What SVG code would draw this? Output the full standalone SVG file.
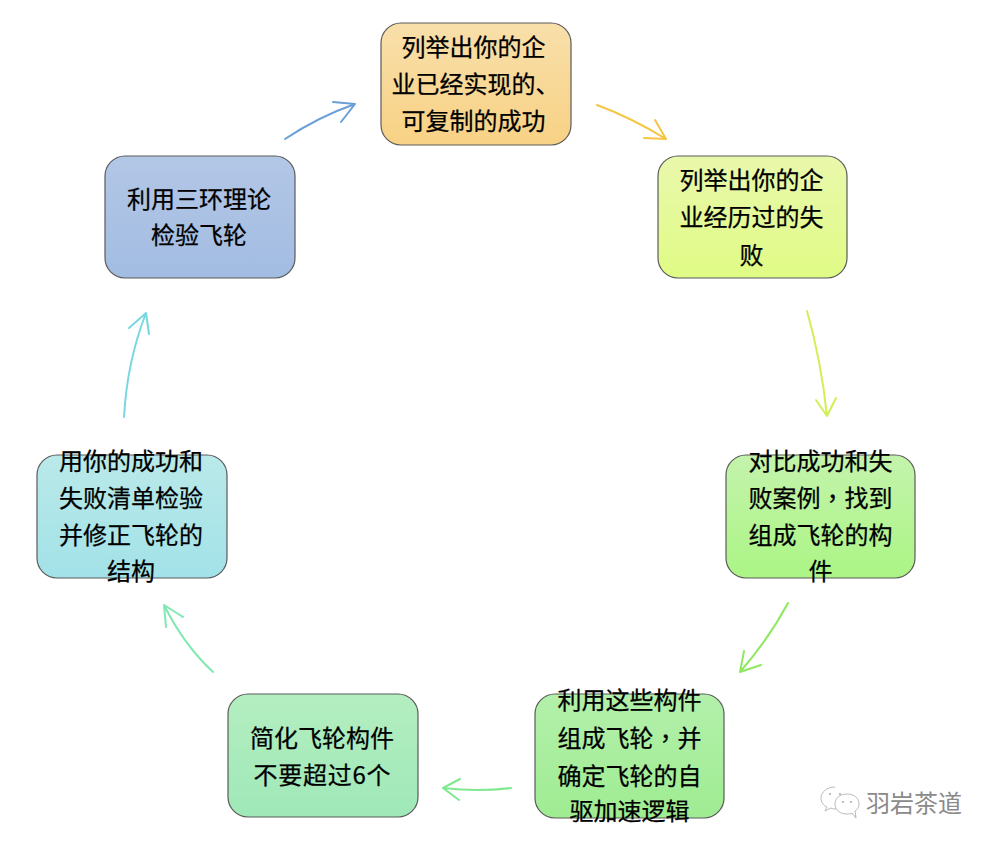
<svg xmlns="http://www.w3.org/2000/svg" width="994" height="848" viewBox="0 0 994 848">
<style>
.box{stroke:#5a5a5a;stroke-width:1.2}
text{font-family:"Noto Sans CJK SC","Noto Sans",sans-serif;font-size:24px;fill:#000;stroke:#000;stroke-width:.25;text-anchor:middle}
.tc{font-family:"Noto Sans CJK TC","Noto Sans",sans-serif}
.c{fill:none;stroke-width:2;stroke-linecap:round;stroke-linejoin:round}
.wm{fill:none;stroke:#a8a8a8;stroke-width:.8}
.wmt{font-size:24px;fill:#8a8a8a;stroke:none}
</style>
<defs>
<linearGradient id="g1" x1="0" y1="0" x2="0" y2="1"><stop offset="0" stop-color="#f8dfaa"/><stop offset="1" stop-color="#f8d285"/></linearGradient>
<linearGradient id="g2" x1="0" y1="0" x2="0" y2="1"><stop offset="0" stop-color="#e9f8ac"/><stop offset="1" stop-color="#e0fb85"/></linearGradient>
<linearGradient id="g3" x1="0" y1="0" x2="0" y2="1"><stop offset="0" stop-color="#c4f3ac"/><stop offset="1" stop-color="#abf585"/></linearGradient>
<linearGradient id="g4" x1="0" y1="0" x2="0" y2="1"><stop offset="0" stop-color="#b3f0ab"/><stop offset="1" stop-color="#9fec92"/></linearGradient>
<linearGradient id="g5" x1="0" y1="0" x2="0" y2="1"><stop offset="0" stop-color="#b4eec0"/><stop offset="1" stop-color="#9fe8b8"/></linearGradient>
<linearGradient id="g6" x1="0" y1="0" x2="0" y2="1"><stop offset="0" stop-color="#bae9e9"/><stop offset="1" stop-color="#a2e2e8"/></linearGradient>
<linearGradient id="g7" x1="0" y1="0" x2="0" y2="1"><stop offset="0" stop-color="#b3c7e6"/><stop offset="1" stop-color="#a2bce2"/></linearGradient>
</defs>
<rect width="994" height="848" fill="#fff"/>
<g id="connectors">
<path class="c" stroke="#6a9fd8" d="M285 139Q318 117 355 104M333 102L355 104L341 122"/>
<path class="c" stroke="#f6c544" d="M597 105Q632 118 666 139M655 120L666 139L644 138"/>
<path class="c" stroke="#d0f055" d="M807 311Q821 360 827 416M816 400L827 416L836 398"/>
<path class="c" stroke="#8fe860" d="M788 603Q768 640 740 672M744 651L740 672L761 665"/>
<path class="c" stroke="#80e890" d="M511 788Q478 792 443 788M460 779L443 788L459 800"/>
<path class="c" stroke="#80e8b0" d="M213 672Q184 645 164 605M166 627L164 605L183 617"/>
<path class="c" stroke="#78d8e0" d="M124 417Q127 362 146 313M129 328L146 313L149 334"/>
</g>
<g id="node1"><rect class="box" x="381" y="23" width="190" height="122" rx="20" fill="url(#g1)"/>
<text x="473.5" y="56">列举出你的企</text><text x="475.5" y="93">业已经实现的、</text><text x="473.5" y="130">可复制的成功</text></g>
<g id="node2"><rect class="box" x="658" y="156" width="189" height="122" rx="20" fill="url(#g2)"/>
<text x="751.5" y="189">列举出你的企</text><text x="751.5" y="226">业经历过的失</text><text x="751.5" y="264">败</text></g>
<g id="node3"><rect class="box" x="726" y="455" width="189" height="123" rx="20" fill="url(#g3)"/>
<text x="820.5" y="470">对比成功和失</text><text x="820.5" y="507">败案例<tspan class="tc">，</tspan>找到</text><text x="820.5" y="544">组成飞轮的构</text><text x="820.5" y="580">件</text></g>
<g id="node4"><rect class="box" x="535" y="694" width="189" height="124" rx="20" fill="url(#g4)"/>
<text x="629.5" y="709">利用这些构件</text><text x="629.5" y="747">组成飞轮<tspan class="tc">，</tspan>并</text><text x="629.5" y="785">确定飞轮的自</text><text x="629.5" y="820">驱加速逻辑</text></g>
<g id="node5"><rect class="box" x="228" y="694" width="190" height="123" rx="20" fill="url(#g5)"/>
<text x="322" y="747">简化飞轮构件</text><text x="322" y="784" textLength="137" lengthAdjust="spacing">不要超过6个</text></g>
<g id="node6"><rect class="box" x="37" y="455" width="190" height="123" rx="20" fill="url(#g6)"/>
<text x="131" y="470">用你的成功和</text><text x="131" y="507">失败清单检验</text><text x="131" y="544">并修正飞轮的</text><text x="131" y="580">结构</text></g>
<g id="node7"><rect class="box" x="105" y="156" width="190" height="122" rx="20" fill="url(#g7)"/>
<text x="199" y="208">利用三环理论</text><text x="199" y="244">检验飞轮</text></g>
<g id="watermark">
<path class="wm" d="M835 787C827 787 821 792 821 798C821 802 823 805 827 807L825 811L831 808C833 809 835 809 836 809"/>
<path class="wm" fill="#fff" d="M847 794C840 794 835 798 835 804C835 810 840 814 847 814C849 814 851 814 852 813L856 818L855 811C858 809 859 807 859 804C859 798 854 794 847 794Z"/>
<circle cx="830" cy="794" r="1" fill="#a8a8a8"/><circle cx="840" cy="794" r="1" fill="#a8a8a8"/>
<circle cx="843" cy="802" r="1" fill="#a8a8a8"/><circle cx="851" cy="802" r="1" fill="#a8a8a8"/>
<text class="wmt" x="914" y="812">羽岩茶道</text>
</g>
</svg>
